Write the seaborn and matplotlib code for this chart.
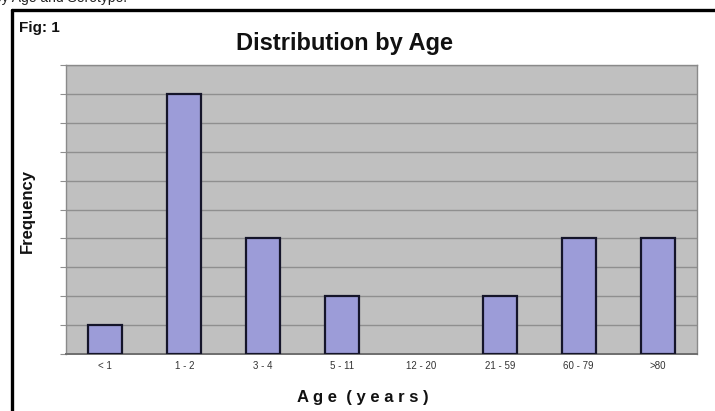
import matplotlib
matplotlib.use("Agg")
import matplotlib.pyplot as plt
import seaborn as sns
import pandas as pd
from matplotlib.lines import Line2D

# Age groups and case counts
age_groups = ["< 1", "1 - 2", "3 - 4", "5 - 11", "12 - 20", "21 - 59", "60 - 79", ">80"]
frequency = [1, 9, 4, 2, 0, 2, 4, 4]

df = pd.DataFrame({"age": age_groups, "count": frequency})

sns.set_theme(style="white")
plt.rcParams["font.family"] = ["Liberation Sans", "DejaVu Sans"]

fig = plt.figure(figsize=(7.15, 4.11), dpi=100)
fig.patch.set_facecolor("white")

ax = fig.add_axes([0.0923, 0.1387, 0.8826, 0.7031])
ax.set_facecolor("#c0c0c0")

sns.barplot(data=df, x="age", y="count", color="#9c9cd8", saturation=1,
            edgecolor="#15152a", linewidth=1.6, width=0.43, ax=ax, zorder=3)

# empty groups get no outline
for patch in ax.patches:
    if patch.get_height() == 0:
        patch.set_linewidth(0)

ax.set_ylim(0, 10)
ax.set_xlim(-0.5, len(age_groups) - 0.5)
ax.set_yticks(range(0, 11))
ax.set_yticklabels([])
ax.yaxis.grid(True, color="#8f8f8f", linewidth=1.0, zorder=0)
ax.xaxis.grid(False)
ax.tick_params(axis="y", direction="out", length=4, width=0.8, color="#8f8f8f", left=True)
ax.tick_params(axis="x", length=0, labelsize=7, labelcolor="#333333", pad=5)
ax.set_xlabel("")
ax.set_ylabel("")

for side, sp in ax.spines.items():
    sp.set_visible(True)
    sp.set_color("#8a8a8a")
    sp.set_linewidth(1.0)
ax.spines["bottom"].set_color("#6e6e6e")
ax.spines["bottom"].set_linewidth(1.4)

# Text elements
fig.text(0.4825, 0.893, "Distribution by Age", ha="center", va="center",
         fontsize=17, fontweight="bold", color="#111111")
fig.text(0.027, 0.932, "Fig: 1", ha="left", va="center",
         fontsize=11, fontweight="bold", color="#111111")
fig.text(0.038, 0.487, "Frequency", ha="center", va="center", rotation=90,
         fontsize=12, fontweight="bold", color="#111111")
fig.text(0.507, 0.033, "A g e  ( y e a r s )", ha="center", va="center",
         fontsize=12, fontweight="bold", color="#111111")
fig.text(-0.008, 0.994, "by Age and Serotype.", ha="left", va="baseline",
         fontsize=10, color="#222222")

# Figure frame (left and top edges)
fig.add_artist(Line2D([0.0168, 0.0168], [-0.01, 0.9745], transform=fig.transFigure,
                      color="black", linewidth=2.4))
fig.add_artist(Line2D([0.0168, 1.01], [0.9745, 0.9745], transform=fig.transFigure,
                      color="black", linewidth=2.4))

fig.savefig("out.png", dpi=100)
